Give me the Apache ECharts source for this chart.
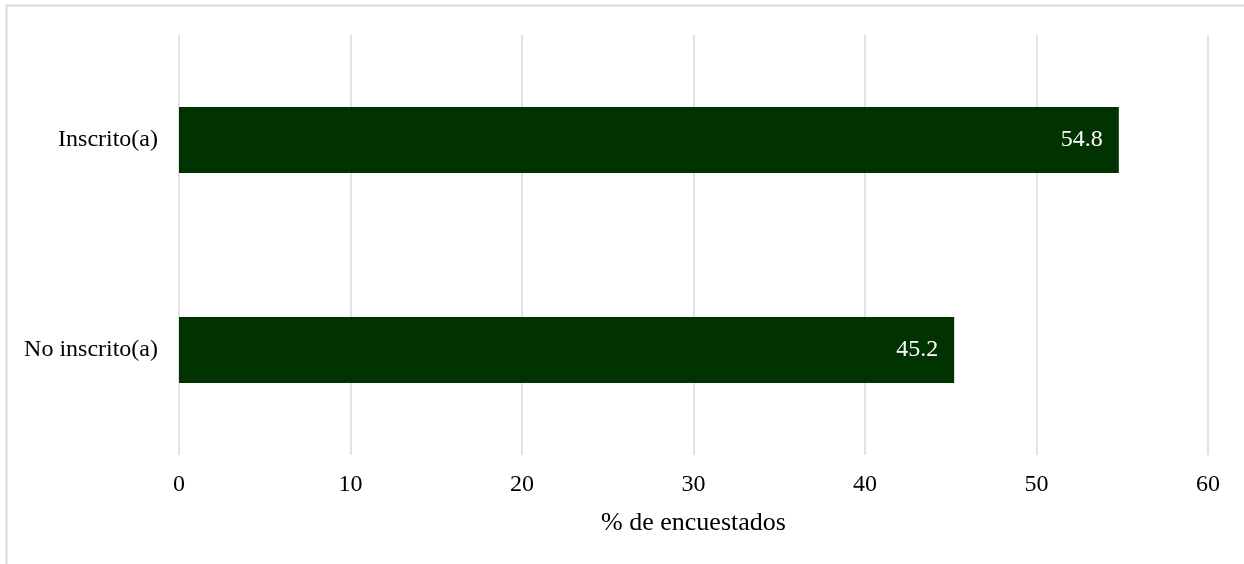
<!DOCTYPE html>
<html>
<head>
<meta charset="utf-8">
<script src="https://cdn.jsdelivr.net/npm/echarts@6/dist/echarts.min.js"></script>
<style>
html,body{margin:0;padding:0;background:#fff;}
#chart{width:1244px;height:564px;}
</style>
</head>
<body>
<div id="chart"></div>
<script>
const categories = ['No inscrito(a)', 'Inscrito(a)'];
const values = [45.2, 54.8];
const xTicks = { min: 0, max: 60, interval: 10 };
const xName = '% de encuestados';

const FONT = '"Liberation Serif", "Times New Roman", serif';
const chart = echarts.init(document.getElementById('chart'), null, { renderer: 'canvas' });
chart.setOption({
  animation: false,
  backgroundColor: '#fff',
  graphic: [{
    type: 'rect',
    shape: { x: 6.5, y: 5.5, width: 1400, height: 700 },
    style: { fill: 'none', stroke: '#d9d9d9', lineWidth: 2 },
    silent: true
  }],
  grid: { left: 179, right: 36, top: 35, bottom: 109, containLabel: false },
  xAxis: {
    type: 'value',
    min: xTicks.min, max: xTicks.max, interval: xTicks.interval,
    name: xName,
    nameLocation: 'middle',
    nameGap: 55,
    nameTextStyle: { fontFamily: FONT, fontSize: 26, color: '#000' },
    axisLine: { show: false },
    axisTick: { show: false },
    axisLabel: { fontFamily: FONT, fontSize: 24, color: '#000', margin: 18 },
    splitLine: { show: true, lineStyle: { color: '#d9d9d9', width: 1.5 } }
  },
  yAxis: {
    type: 'category',
    data: categories,
    axisLine: { show: false },
    axisTick: { show: false },
    axisLabel: { fontFamily: FONT, fontSize: 24, color: '#000', margin: 21 }
  },
  series: [{
    type: 'bar',
    data: values,
    barWidth: 66,
    itemStyle: { color: '#003300' },
    label: {
      show: true,
      position: 'insideRight',
      distance: 16,
      fontFamily: FONT,
      fontSize: 24,
      color: '#ffffff',
      formatter: p => p.value.toFixed(1)
    }
  }]
});
</script>
</body>
</html>
